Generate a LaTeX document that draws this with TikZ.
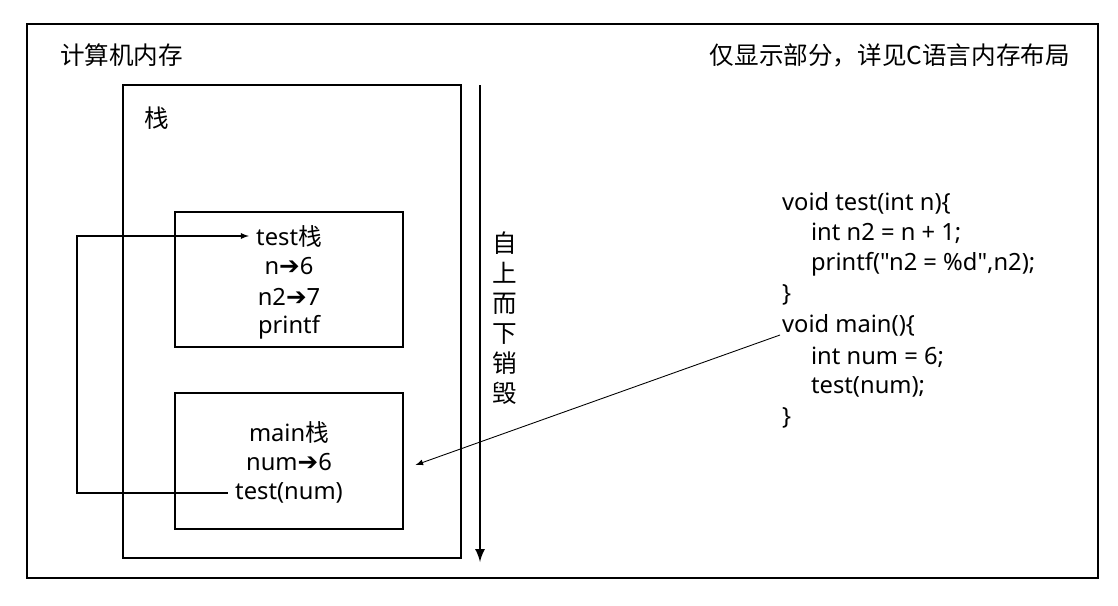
\documentclass[tikz,border=0pt]{standalone}
\usepackage{fontspec}
\setmainfont{Noto Sans}[Ligatures=TeXOff]
\newfontfamily\cjk{Noto Sans CJK SC}
\newfontfamily\symfont{DejaVu Sans}
\usetikzlibrary{arrows}
\newcommand{\toarrow}{{\symfont\fontsize{14pt}{14pt}\selectfont ➔}}
\tikzset{
  every node/.style={font=\fontsize{13.5pt}{17pt}\selectfont, inner sep=1pt},
  frame/.style={draw, line width=0.6pt},
  codeline/.style={anchor=west},
  cjktext/.style={font=\fontsize{14pt}{17pt}\selectfont\cjk}
}
\begin{document}
\begin{tikzpicture}[x=0.02cm,y=-0.02cm]
\useasboundingbox (0,0) rectangle (1118,605);
% outer memory frame
\draw [frame](27,24) rectangle (1098,578);
\node [cjktext, anchor=west] (memtitle) at (58,55) {计算机内存};
\node [cjktext, anchor=east] (note) at (1072,55) {仅显示部分，详见C语言内存布局};
% stack
\draw [frame](123,85) rectangle (461,558);
\node [cjktext, anchor=west] (stacktitle) at (142,118) {栈};
% test frame
\node [frame, minimum width=228*0.02cm, minimum height=135*0.02cm] (testbox) at (289,279.5) {};
\node [inner sep=4pt] (testname) at (289,236) {test{\cjk 栈}};
\node (testn) at (289,266) {n\toarrow 6};
\node (testnn) at (289,297) {n2\toarrow 7};
\node (testprint) at (289,327) {printf};
% main frame
\node [frame, minimum width=228*0.02cm, minimum height=136*0.02cm] (mainbox) at (289,461) {};
\node (mainname) at (289,432) {main{\cjk 栈}};
\node (mainnum) at (289,462) {num\toarrow 6};
\node [inner sep=4pt] (maincall) at (289,493) {test(num)};
% call goes back up to test
\coordinate (back) at (77,0);
\draw [line width=0.6pt,-latex](maincall.west) -- (maincall.west -| back) |- (testname.west);
% destroy order
\draw [line width=1.5pt,-latex](480,85) -- (480,562);
\node [cjktext, align=center] (destroy) at (505,318) {自\\上\\而\\下\\销\\毁};
% source code
\node [codeline] (c1) at (780,203) {void test(int n)\{};
\node [codeline] (c2) at (809,233) {int n2 = n + 1;};
\node [codeline] (c3) at (809,264) {printf("n2 = \%d",n2);};
\node [codeline] (c4) at (780,295) {\}};
\node [codeline] (c5) at (780,325) {void main()\{};
\node [codeline] (c6) at (809,357) {int num = 6;};
\node [codeline] (c7) at (809,387) {test(num);};
\node [codeline] (c8) at (780,418) {\}};
\draw [line width=0.5pt,-latex]([yshift=-0.2cm]c5.west) -- ([xshift=0.24cm,yshift=-0.08cm]mainbox.east);
\end{tikzpicture}
\end{document}
